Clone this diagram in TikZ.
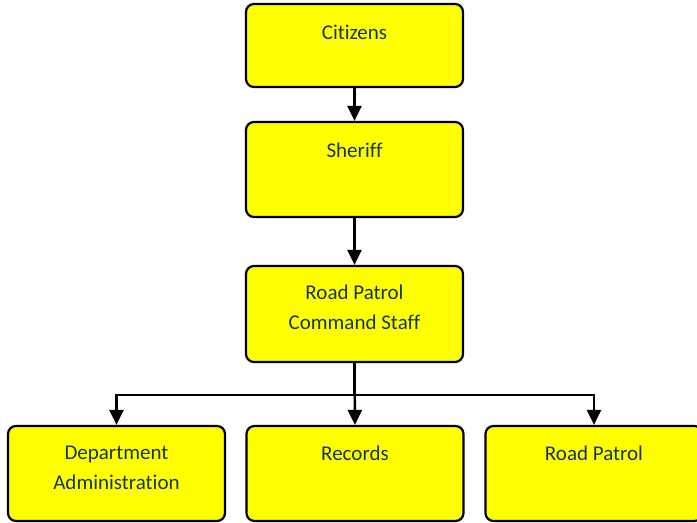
\documentclass[tikz,border=0pt]{standalone}
\usepackage{fontspec}
\setmainfont{Carlito}[Ligatures=NoCommon]
\usetikzlibrary{arrows.meta}
\usepackage{color}
\definecolor{boxtext}{HTML}{17365D}
\definecolor{boxfill}{HTML}{FFFF00}
\tikzstyle{box}=[draw, line width=1.1pt, fill=boxfill, rounded corners=4pt, minimum width=108.5pt, inner sep=0pt]
\tikzstyle{lbl}=[text=boxtext, align=center, anchor=base, inner sep=0pt, font=\fontsize{10.5}{15}\selectfont]
\tikzstyle{conn}=[line width=1.2pt, -{Triangle[width=7pt,length=7.5pt]}]

\begin{document}
\begin{tikzpicture}[x=0.5pt, y=-0.5pt]
    \useasboundingbox (0, 0) rectangle (697, 523);
    \node [box, minimum height=41.5pt] (citizens) at (354.5, 45.5) {};
    \node [box, minimum height=47.5pt] (sheriff) at (354.5, 169.5) {};
    \node [box, minimum height=48pt] (command) at (354.5, 314) {};
    \node [box, minimum height=47.5pt] (admin) at (116.5, 473.5) {};
    \node [box, minimum height=47.5pt] (records) at (355, 473.5) {};
    \node [box, minimum height=47.5pt] (patrol) at (594, 473.5) {};
    % two-line labels: base is the last line
    \node [lbl] at ([yshift=-18.5pt]citizens.north) {Citizens};
    \node [lbl] at ([yshift=-18.5pt]sheriff.north) {Sheriff};
    \node [lbl] at ([yshift=-32.5pt]command.north) {Road Patrol\\Command Staff};
    \node [lbl] at ([yshift=-32.5pt]admin.north) {Department\\Administration};
    \node [lbl] at ([yshift=-18pt]records.north) {Records};
    \node [lbl] at ([yshift=-18pt]patrol.north) {Road Patrol};
    \draw [conn] (citizens) -- (sheriff);
    \draw [conn] (sheriff) -- (command);
    \draw [conn] (command.south) -- ++(0, 32) -| (admin.north);
    \draw [conn] (command.south) -- ++(0, 32) -| (patrol.north);
    \draw [conn] (command.south) -- (records.north);
  \end{tikzpicture}
\end{document}
